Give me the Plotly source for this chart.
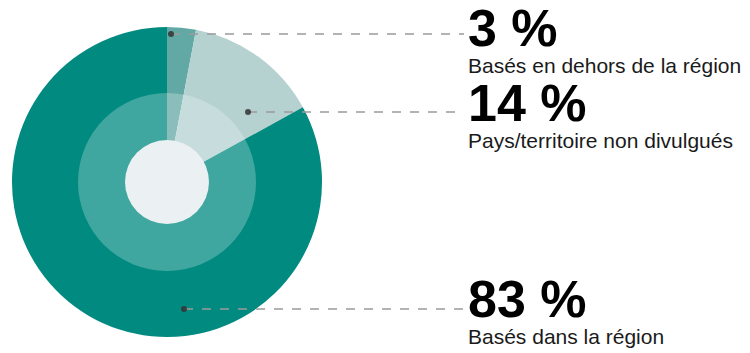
import plotly.graph_objects as go

# Share of entities by location
values = [3, 14, 83]
pct_labels = ["3 %", "14 %", "83 %"]
categories = [
    "Basés en dehors de la région",
    "Pays/territoire non divulgués",
    "Basés dans la région",
]
colors = ["#62A8A4", "#B5D1D0", "#008A80"]

W, H = 750, 353
CX, CY = 167, 182          # pie centre (px)
R_OUT, R_MID, R_IN = 155, 89, 42


def px_domain(r):
    return dict(x=[(CX - r) / W, (CX + r) / W],
                y=[1 - (CY + r) / H, 1 - (CY - r) / H])


fig = go.Figure()

# main pie
fig.add_trace(go.Pie(
    values=values, labels=categories, sort=False, direction="clockwise",
    rotation=0, marker=dict(colors=colors, line=dict(width=0)),
    textinfo="none", hoverinfo="label+percent", showlegend=False,
    domain=px_domain(R_OUT),
))
# translucent white ring that lightens the inner part
fig.add_trace(go.Pie(
    values=[1], labels=[""], sort=False,
    marker=dict(colors=["rgba(255,255,255,0.25)"], line=dict(width=0)),
    textinfo="none", hoverinfo="skip", showlegend=False,
    domain=px_domain(R_MID),
))
# centre disc
fig.add_trace(go.Pie(
    values=[1], labels=[""], sort=False,
    marker=dict(colors=["#EBF0F3"], line=dict(width=0)),
    textinfo="none", hoverinfo="skip", showlegend=False,
    domain=px_domain(R_IN),
))

# leader lines: dot position inside each slice and the row height of its label
dot_xy = [(171, 34), (248, 112), (184, 309)]
caption_baseline = [73, 148, 344]
TEXT_X = 467
FONT = "Liberation Sans, Arial, sans-serif"
shapes = []
annotations = []
for (dx, dy), base, pct, cat in zip(dot_xy, caption_baseline, pct_labels, categories):
    yp = 1 - dy / H
    shapes.append(dict(type="line", xref="paper", yref="paper",
                       x0=dx / W, x1=(TEXT_X - 3) / W, y0=yp, y1=yp,
                       line=dict(color="#9A9A9A", width=1.5, dash="dash")))
    shapes.append(dict(type="circle", xref="paper", yref="paper",
                       x0=(dx - 3) / W, x1=(dx + 3) / W,
                       y0=1 - (dy + 3) / H, y1=1 - (dy - 3) / H,
                       fillcolor="#333333", line=dict(width=0), opacity=0.85))
    text = (f"<span style='font-size:52px;color:#000000'><b>{pct}</b></span>"
            f"<br>{cat}")
    annotations.append(dict(text=text, xref="paper", yref="paper",
                            x=TEXT_X / W, y=1 - (base + 5) / H,
                            xanchor="left", yanchor="bottom", align="left",
                            showarrow=False, borderpad=0,
                            font=dict(size=21, color="#1A1A1A", family=FONT)))

fig.update_layout(
    width=W, height=H, margin=dict(l=0, r=0, t=0, b=0),
    paper_bgcolor="white", plot_bgcolor="white",
    shapes=shapes, annotations=annotations,
)

fig.write_html("out.html")
